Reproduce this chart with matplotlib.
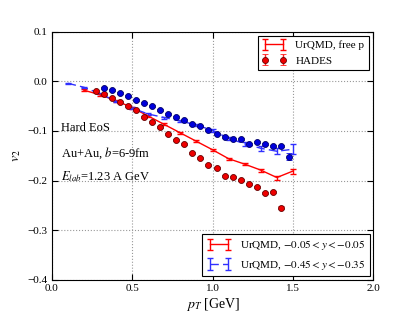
import matplotlib
matplotlib.use("Agg")
import matplotlib.pyplot as plt
import numpy as np

plt.rcParams['font.family'] = ['Liberation Serif', 'DejaVu Serif']
plt.rcParams['mathtext.fontset'] = 'stix'
plt.rcParams['xtick.direction'] = 'in'
plt.rcParams['ytick.direction'] = 'in'
plt.rcParams['xtick.top'] = True
plt.rcParams['ytick.right'] = True

# UrQMD, -0.05<y<0.05 (free protons)
urqmd_mid_pt = [0.2, 0.3, 0.4, 0.5, 0.6, 0.7, 0.8, 0.9, 1.0, 1.1, 1.2, 1.3, 1.4, 1.5]
urqmd_mid_v2 = [-0.018, -0.027, -0.039, -0.053, -0.070, -0.087, -0.104, -0.121,
                -0.138, -0.156, -0.167, -0.179, -0.194, -0.181]
urqmd_mid_err = [0.002, 0.002, 0.002, 0.002, 0.002, 0.002, 0.002, 0.002,
                 0.002, 0.002, 0.002, 0.003, 0.004, 0.005]

# UrQMD, -0.45<y<-0.35
urqmd_fwd_pt = [0.1, 0.2, 0.3, 0.4, 0.5, 0.6, 0.7, 0.8, 0.9, 1.0, 1.1, 1.2, 1.3, 1.4, 1.5]
urqmd_fwd_v2 = [-0.004, -0.012, -0.025, -0.040, -0.054, -0.066, -0.073, -0.080,
                -0.088, -0.099, -0.115, -0.126, -0.135, -0.141, -0.137]
urqmd_fwd_err = [0.001, 0.001, 0.001, 0.001, 0.002, 0.002, 0.002, 0.002,
                 0.002, 0.003, 0.003, 0.004, 0.005, 0.006, 0.010]

# HADES mid-rapidity
hades_mid_pt = [0.275, 0.325, 0.375, 0.425, 0.475, 0.525, 0.575, 0.625, 0.675, 0.725,
                0.775, 0.825, 0.875, 0.925, 0.975, 1.025, 1.075, 1.125, 1.175, 1.225,
                1.275, 1.325, 1.375, 1.425]
hades_mid_v2 = [-0.019, -0.026, -0.034, -0.041, -0.050, -0.058, -0.071, -0.082, -0.092, -0.106,
                -0.119, -0.126, -0.144, -0.154, -0.168, -0.174, -0.190, -0.193, -0.199, -0.208,
                -0.213, -0.225, -0.223, -0.255]
hades_mid_err = [0.002] * 23 + [0.003]

# HADES forward rapidity
hades_fwd_pt = [0.325, 0.375, 0.425, 0.475, 0.525, 0.575, 0.625, 0.675, 0.725, 0.775,
                0.825, 0.875, 0.925, 0.975, 1.025, 1.075, 1.125, 1.175, 1.225, 1.275,
                1.325, 1.375, 1.425, 1.475]
hades_fwd_v2 = [-0.013, -0.018, -0.023, -0.030, -0.037, -0.044, -0.050, -0.057, -0.065, -0.071,
                -0.078, -0.086, -0.091, -0.098, -0.107, -0.113, -0.116, -0.116, -0.127, -0.122,
                -0.126, -0.130, -0.131, -0.152]
hades_fwd_err = [0.002] * 23 + [0.007]

fig = plt.figure(figsize=(4.15, 3.12), dpi=100)
ax = fig.add_axes([0.1246, 0.1035, 0.7749, 0.7949])

h_mid = ax.errorbar(urqmd_mid_pt, urqmd_mid_v2, yerr=urqmd_mid_err, color='#ff0000',
                    lw=1.0, capsize=2.5, elinewidth=1.0, capthick=1.0, zorder=3)
h_fwd = ax.errorbar(urqmd_fwd_pt, urqmd_fwd_v2, yerr=urqmd_fwd_err, color='#3030ff',
                    lw=1.0, ls='--', dashes=(6, 3), capsize=2.5, elinewidth=1.0, capthick=1.0, zorder=3)
h_hades = ax.errorbar(hades_mid_pt, hades_mid_v2, yerr=hades_mid_err, fmt='o', color='#ff2020',
                      mfc='#ee0000', mec='#660000', ms=4.3, mew=0.6, capsize=2, elinewidth=1.0,
                      ecolor='#ff2020', zorder=4)
ax.errorbar(hades_fwd_pt, hades_fwd_v2, yerr=hades_fwd_err, fmt='o', color='#0000dd',
            mfc='#0000dd', mec='#000066', ms=4.3, mew=0.6, capsize=2, elinewidth=1.0,
            ecolor='#1010ee', zorder=4)

ax.set_xlim(0.0, 2.0)
ax.set_ylim(-0.4, 0.1)
ax.set_xticks([0.0, 0.5, 1.0, 1.5, 2.0])
ax.set_yticks([-0.4, -0.3, -0.2, -0.1, 0.0, 0.1])
ax.set_xticklabels(['0.0', '0.5', '1.0', '1.5', '2.0'])
ax.set_yticklabels(['\u22120.4', '\u22120.3', '\u22120.2', '\u22120.1', '0.0', '0.1'])
ax.tick_params(labelsize=8, length=4, width=0.8, pad=3)
ax.grid(True, ls=':', color='#999999', lw=0.8)
ax.set_axisbelow(True)

ax.set_xlabel('$p_T$ [GeV]', fontsize=10, labelpad=2)
ax.set_ylabel('$v_2$', fontsize=10, labelpad=3)

ax.text(0.055, -0.094, 'Hard EoS', fontsize=9, va='center')
ax.text(0.055, -0.145, 'Au+Au, $b$=6-9fm', fontsize=9, va='center')
ax.text(0.055, -0.192, '$E_{lab}$=1.23 A GeV', fontsize=9, va='center')

leg1 = ax.legend([h_mid, h_hades], ['UrQMD, free p', 'HADES'], loc='upper right',
                 numpoints=2, fontsize=8, fancybox=False, framealpha=1,
                 edgecolor='black', borderaxespad=0.4, handlelength=2.2)
leg1.get_frame().set_linewidth(0.8)
ax.add_artist(leg1)
leg2 = ax.legend([h_mid, h_fwd], ['UrQMD, $-0.05 < y < -0.05$', 'UrQMD, $-0.45 < y < -0.35$'],
                 loc='lower right', numpoints=2, fontsize=8, fancybox=False, framealpha=1,
                 edgecolor='black', borderaxespad=0.3, handlelength=2.2)
leg2.get_frame().set_linewidth(0.8)

fig.savefig('out.png', dpi=100)
